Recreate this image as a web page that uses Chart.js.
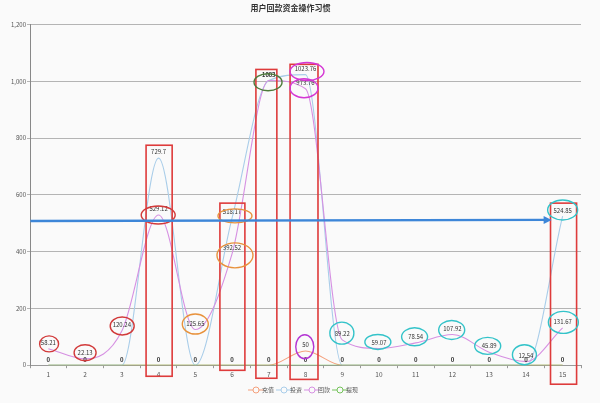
<!DOCTYPE html>
<html>
<head>
<meta charset="utf-8">
<script src="https://cdn.jsdelivr.net/npm/chart.js@4/dist/chart.umd.min.js"></script>
<style>
    html, body { margin: 0; padding: 0; background: #fafafa; }
    #wrap { width: 600px; height: 403px; }
</style>
</head>
<body>
<div id="wrap"><canvas id="chart"></canvas></div>
<script>
// ─── Data ───
const days = ['1', '2', '3', '4', '5', '6', '7', '8', '9', '10', '11', '12', '13', '14', '15'];
const recharge = [0, 0, 0, 0, 0, 0, 0, 50, 0, 0, 0, 0, 0, 0, 0];
const invest = [0, 0, 0, 729.7, 0, 518.17, 1003, 1023.76, 0, 0, 0, 0, 0, 0, 524.85];
const repay = [58.21, 22.13, 120.24, 529.12, 125.65, 392.52, 1003, 973.76, 89.22, 59.07, 78.54, 107.92, 45.89, 12.54, 131.67];
const withdraw = [0, 0, 0, 0, 0, 0, 0, 0, 0, 0, 0, 0, 0, 0, 0];
const seriesNames = ['充值', '投资', '回款', '提现'];
const seriesColors = ['#f4a07c', '#a9cde9', '#d690e2', '#74c25a'];

// ─── Hand-drawn markup (x = day, y = value) ───
const boxes = [
    { x0: 3.66, x1: 4.37, y0: -39, y1: 775 },
    { x0: 5.67, x1: 6.35, y0: -18, y1: 571 },
    { x0: 6.65, x1: 7.22, y0: -46, y1: 1042 },
    { x0: 7.58, x1: 8.34, y0: -50, y1: 1060 },
    { x0: 14.67, x1: 15.38, y0: -67, y1: 571 },
];
const rings = [
    { x: 1.02, y: 75, rx: 9.5, ry: 8, c: '#d23a3a' },
    { x: 2.0, y: 44, rx: 11, ry: 8, c: '#d23a3a' },
    { x: 3.01, y: 138, rx: 12, ry: 9, c: '#d23a3a' },
    { x: 5.0, y: 145, rx: 13, ry: 10, c: '#e8923c' },
    { x: 3.99, y: 529, rx: 17, ry: 9, c: '#d23a3a' },
    { x: 6.08, y: 526, rx: 17, ry: 7, c: '#e8923c' },
    { x: 6.08, y: 387, rx: 18, ry: 12.5, c: '#e8923c' },
    { x: 6.98, y: 997, rx: 14, ry: 8.5, c: '#4d7a3a' },
    { x: 8.04, y: 1035, rx: 17, ry: 9, c: '#d436d4' },
    { x: 7.96, y: 976, rx: 14, ry: 9.5, c: '#d436d4' },
    { x: 7.98, y: 65, rx: 9, ry: 12, c: '#b436d4' },
    { x: 8.99, y: 113, rx: 12, ry: 11, c: '#33c3c9' },
    { x: 9.97, y: 82, rx: 13, ry: 7.5, c: '#33c3c9' },
    { x: 10.97, y: 100, rx: 13, ry: 9, c: '#33c3c9' },
    { x: 11.98, y: 124, rx: 13, ry: 9.5, c: '#33c3c9' },
    { x: 12.96, y: 68, rx: 13, ry: 8.5, c: '#33c3c9' },
    { x: 13.96, y: 37, rx: 12, ry: 10, c: '#33c3c9' },
    { x: 15.0, y: 547, rx: 15, ry: 10, c: '#33c3c9' },
    { x: 15.02, y: 151, rx: 15, ry: 11, c: '#33c3c9' },
];
const arrow = { x0: 0.51, y0: 508, x1: 14.7, y1: 512 };

// legend icon: short line with an open circle
function legendIcon(color) {
    const cv = document.createElement('canvas');
    cv.width = 16; cv.height = 8;
    const c = cv.getContext('2d');
    c.strokeStyle = color; c.lineWidth = 1;
    c.beginPath(); c.moveTo(0, 4); c.lineTo(16, 4); c.stroke();
    c.fillStyle = '#fafafa';
    c.beginPath(); c.arc(8, 4, 3, 0, Math.PI * 2); c.fill(); c.stroke();
    return cv;
}

const valueLabels = {
    id: 'valueLabels',
    afterDatasetsDraw(chart) {
        const { ctx } = chart;
        ctx.save();
        ctx.textAlign = 'center';
        ctx.textBaseline = 'bottom';
        ctx.fillStyle = '#333';
        chart.data.datasets.forEach((ds, di) => {
            const meta = chart.getDatasetMeta(di);
            meta.data.forEach((pt, i) => {
                const v = ds.data[i];
                if (di === 3) {
                    ctx.font = 'bold 6px "Noto Sans CJK SC", sans-serif';
                    ctx.fillText('0', pt.x, pt.y - 2);
                } else if (v !== 0) {
                    ctx.font = '6px "Noto Sans CJK SC", sans-serif';
                    ctx.fillText(String(v), pt.x, pt.y - 3);
                }
            });
        });
        ctx.restore();
    },
};

const markup = {
    id: 'markup',
    afterDatasetsDraw(chart) {
        const { ctx, scales: { x, y } } = chart;
        const px = d => x.getPixelForValue(d - 1);
        ctx.save();
        ctx.lineWidth = 1.6;
        ctx.strokeStyle = '#de3b3b';
        boxes.forEach(b => {
            ctx.strokeRect(px(b.x0), y.getPixelForValue(b.y1), px(b.x1) - px(b.x0), y.getPixelForValue(b.y0) - y.getPixelForValue(b.y1));
        });
        ctx.lineWidth = 1.4;
        rings.forEach(r => {
            ctx.strokeStyle = r.c;
            ctx.beginPath();
            ctx.ellipse(px(r.x), y.getPixelForValue(r.y), r.rx, r.ry, 0, 0, Math.PI * 2);
            ctx.stroke();
        });
        // arrow
        const ax0 = px(arrow.x0), ay0 = y.getPixelForValue(arrow.y0);
        const ax1 = px(arrow.x1), ay1 = y.getPixelForValue(arrow.y1);
        ctx.strokeStyle = '#3d86d8';
        ctx.fillStyle = '#3d86d8';
        ctx.lineWidth = 2.4;
        ctx.beginPath(); ctx.moveTo(ax0, ay0); ctx.lineTo(ax1 - 6, ay1); ctx.stroke();
        ctx.beginPath();
        ctx.moveTo(ax1, ay1); ctx.lineTo(ax1 - 8, ay1 - 4); ctx.lineTo(ax1 - 8, ay1 + 4);
        ctx.closePath(); ctx.fill();
        ctx.restore();
    },
};

const allSeries = [recharge, invest, repay, withdraw];

new Chart(document.getElementById('chart'), {
    type: 'line',
    data: {
        labels: days,
        datasets: allSeries.map((data, i) => ({
            label: seriesNames[i],
            data,
            borderColor: seriesColors[i],
            backgroundColor: seriesColors[i],
            borderWidth: 1.1,
            cubicInterpolationMode: 'monotone',
            pointRadius: 0,
            pointHoverRadius: 0,
            pointStyle: legendIcon(seriesColors[i]),
            order: 3 - i,
        })),
    },
    options: {
        responsive: true,
        maintainAspectRatio: false,
        animation: false,
        devicePixelRatio: 1,
        layout: { padding: { left: 0, right: 19, top: 0, bottom: 0 } },
        plugins: {
            title: {
                display: true,
                text: '用户回款资金操作习惯',
                color: '#333',
                font: { size: 8, weight: 'bold', family: '"Noto Sans CJK SC", sans-serif' },
                padding: { top: 3, bottom: 12 },
            },
            legend: {
                position: 'bottom',
                fullSize: false,
                labels: {
                    usePointStyle: true,
                    color: '#555',
                    font: { size: 6, family: '"Noto Sans CJK SC", sans-serif' },
                    padding: 7,
                    boxHeight: 6,
                    sort: (a, b) => a.datasetIndex - b.datasetIndex,
                },
            },
            tooltip: { enabled: false },
        },
        scales: {
            x: {
                offset: true,
                grid: { display: true, drawOnChartArea: false, offset: true, tickLength: 3, color: '#999' },
                border: { color: '#999' },
                ticks: { color: '#555', font: { size: 6.5, family: '"Noto Sans CJK SC", sans-serif' }, padding: 2 },
            },
            y: {
                min: 0,
                max: 1200,
                afterFit: (s) => { s.width = 30; },
                grid: { color: '#b4b4b4', tickLength: 3 },
                border: { color: '#888' },
                ticks: { stepSize: 200, color: '#555', font: { size: 6, family: '"Noto Sans CJK SC", sans-serif' }, padding: 1 },
            },
        },
    },
    plugins: [valueLabels, markup],
});
</script>
</body>
</html>
